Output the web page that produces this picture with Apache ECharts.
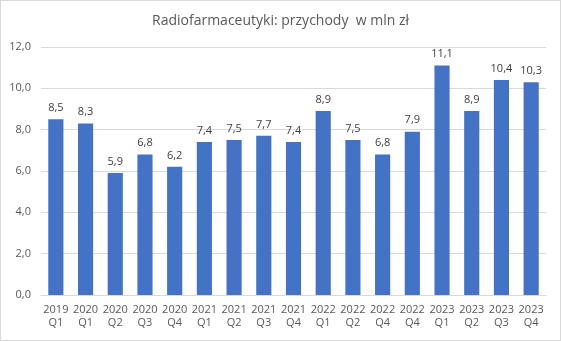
<!DOCTYPE html>
<html><head><meta charset="utf-8">
<script src="https://cdn.jsdelivr.net/npm/echarts@6/dist/echarts.min.js"></script>
<style>html,body{margin:0;padding:0;background:#fff}#c{width:561px;height:341px;box-sizing:border-box;border:1px solid #d9d9d9}</style>
</head><body><div id="c"></div>
<script>
var categories = ["2019\nQ1","2020\nQ1","2020\nQ2","2020\nQ3","2020\nQ4","2021\nQ1","2021\nQ2","2021\nQ3","2021\nQ4","2022\nQ1","2022\nQ2","2022\nQ4","2022\nQ4","2023\nQ1","2023\nQ2","2023\nQ3","2023\nQ4"];
var values = [8.5,8.3,5.9,6.8,6.2,7.4,7.5,7.7,7.4,8.9,7.5,6.8,7.9,11.1,8.9,10.4,10.3];
var titleText = "Radiofarmaceutyki: przychody  w mln zł";
var fmt = function(v){return Number(v).toFixed(1).replace('.',',');};
var chart = echarts.init(document.getElementById('c'));
chart.setOption({
  animation:false,
  textStyle:{fontFamily:"Open Sans"},
  title:{text:titleText,left:'center',top:8,textStyle:{fontSize:14,fontWeight:'normal',color:'#595959',fontFamily:'Open Sans'}},
  grid:{left:40,right:14,top:46,bottom:45},
  xAxis:{type:'category',data:categories,
    axisLine:{lineStyle:{color:'#d9d9d9'}},axisTick:{show:false},
    axisLabel:{color:'#595959',fontSize:11,lineHeight:13,margin:8,interval:0}},
  yAxis:{type:'value',min:0,max:12,interval:2,
    axisLine:{show:false},axisTick:{show:false},
    splitLine:{lineStyle:{color:'#d9d9d9'}},
    axisLabel:{color:'#595959',fontSize:11,formatter:fmt,margin:10}},
  series:[{type:'bar',data:values,barWidth:'51%',itemStyle:{color:'#4472C4'},
    label:{show:true,position:'top',distance:6,color:'#404040',fontSize:11,formatter:function(p){return fmt(p.value);}}}]
});
</script></body></html>
